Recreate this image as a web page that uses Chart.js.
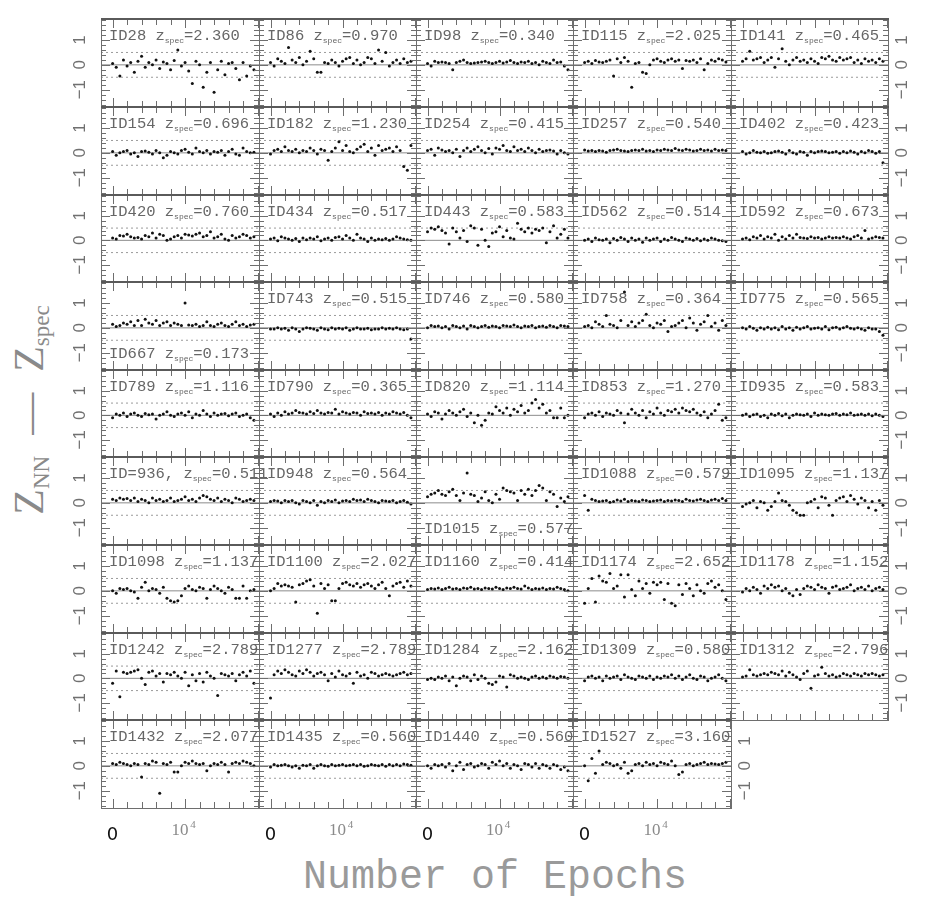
<!DOCTYPE html>
<html>
<head>
<meta charset="utf-8">
<script src="https://cdn.jsdelivr.net/npm/chart.js@4/dist/chart.umd.min.js"></script>
<style>
  body { margin: 0; background: #fff; width: 926px; height: 908px; position: relative; overflow: hidden; }
  canvas { position: absolute; }
  #xt { position: absolute; left: 0; width: 990px; top: 856px; text-align: center;
        font: 40px "Liberation Mono"; color: #9a9a9a; line-height: 44px; }
  #yt { position: absolute; left: -175px; top: 385px; width: 410px; height: 50px; line-height: 50px;
        text-align: center; transform: rotate(-90deg); font: 42px "Liberation Serif"; color: #8a8a8a; white-space: nowrap; }
  #yt sub { font-size: 23px; vertical-align: -6px; }
</style>
</head>
<body>
<div id="xt">Number of Epochs</div>
<div id="yt">Z<sub>NN</sub>&nbsp;&nbsp;—&nbsp;&nbsp;Z<sub>spec</sub></div>
<script>
// epochs at which each object was evaluated
const epochs = [0,500,1000,1500,2000,2500,3000,3500,4000,4500,5000,5500,6000,6500,7000,7500,8000,8500,9000,9500,
  10000,10500,11000,11500,12000,12500,13000,13500,14000,14500,15000,15500,16000,16500,17000,17500,18000,18500,19000,19500];

const ids = ['ID28','ID86','ID98','ID115','ID141','ID154','ID182','ID254','ID257','ID402',
  'ID420','ID434','ID443','ID562','ID592','ID667','ID743','ID746','ID758','ID775',
  'ID789','ID790','ID820','ID853','ID935','ID=936,','ID948','ID1015','ID1088','ID1095',
  'ID1098','ID1100','ID1160','ID1174','ID1178','ID1242','ID1277','ID1284','ID1309','ID1312',
  'ID1432','ID1435','ID1440','ID1527'];
const zspec = ['2.360','0.970','0.340','2.025','0.465','0.696','1.230','0.415','0.540','0.423',
  '0.760','0.517','0.583','0.514','0.673','0.173','0.515','0.580','0.364','0.565',
  '1.116','0.365','1.114','1.270','0.583','0.511','0.564','0.577','0.579','1.137',
  '1.137','2.027','0.414','2.652','1.152','2.789','2.789','2.162','0.580','2.796',
  '2.077','0.560','0.560','3.160'];

// z_NN - z_spec per object
const id28 = [.05,-.1,-.45,.2,-.05,.1,-.3,.15,.35,-.1,.1,.0,.2,-.15,.12,.05,-.2,.18,.6,-.05,.1,-.25,-.75,.15,.0,-.9,-.3,.1,-1.1,-.2,.15,-.4,.05,.1,-.15,-.6,.1,-.45,-.05,-.2];
const id86 = [.1,-.05,.25,.15,.05,.7,.2,.1,.3,.0,.15,.55,.25,-.3,-.3,.1,.05,.2,.1,-.05,.15,.25,.3,.05,.2,.0,.1,.3,.25,.05,.6,.15,.5,-.05,.1,.2,.05,.25,.1,.15];
const id98 = [.05,-.05,.15,.1,.12,.1,.05,-.2,.1,.15,.2,.1,.05,.08,.1,.12,.15,.1,.05,.1,.15,.08,.12,.18,.1,.05,.12,.1,.15,.05,.1,.0,.15,.1,.05,.2,.1,.12,-.05,-.2];
const id115 = [.1,.15,.05,.18,.12,.1,.15,.2,-.45,.25,.1,.3,.15,-.9,.05,.1,-.3,-.35,.0,.2,.25,.15,.1,.2,.25,.15,.2,-.15,.18,.15,.2,.1,.25,-.2,.05,.2,.15,.25,.2,.12];
const id141 = [.15,.25,.55,.2,.25,.3,.1,.2,.3,-.1,.25,.65,.15,.0,.2,.3,.15,.2,.1,.25,.15,.05,.3,.25,.35,.2,.15,.3,.2,.25,.3,.1,.2,.05,.25,.15,.2,.1,.25,.15];
const id154 = [.05,-.1,.0,.05,.1,-.05,.0,-.15,.05,.08,.02,-.05,.1,.0,-.2,-.1,.05,.0,-.05,.1,.15,.02,-.05,.2,.05,.0,.1,-.05,.05,.02,.1,-.1,.05,.15,-.05,-.1,.2,.05,.0,.02];
const id182 = [-.05,.1,.15,.05,.25,.1,.05,.15,.0,.1,.05,.2,.1,-.05,.15,.1,-.3,.05,.2,.45,.1,.3,.05,.0,.15,.25,.35,.05,.2,-.1,.3,.1,.15,.2,.05,.25,.1,-.55,-.7,.3];
const id254 = [.1,.15,-.1,.2,.12,.05,.1,.0,.15,-.15,.1,.2,.05,.15,.25,.1,.0,.18,-.05,.2,.15,.3,.1,.05,.25,.1,.15,.05,.2,.1,.0,.15,.05,.1,.12,.08,-.05,.1,.0,-.05];
const id257 = [.12,.08,.1,.05,.1,.08,.02,.1,.12,.15,.1,.08,.05,.1,.12,.1,.15,.08,.1,.05,.12,.1,.15,.12,.1,.18,.12,.1,.15,.12,.08,.1,.15,.1,.12,.08,.15,.1,.12,.1];
const id402 = [.05,-.05,.0,.1,.02,.0,.05,-.02,.0,.05,.08,.02,-.05,.1,.0,-.05,.05,.02,-.1,.05,.0,.05,.08,.05,.0,.02,.05,-.02,.05,.0,.08,.02,-.05,.05,.0,.1,.05,-.02,.05,-.4];
const id420 = [.1,.05,.2,.18,.25,.15,.1,.12,.05,.2,.15,.3,.1,.25,.2,.0,.05,.15,.2,.1,.25,.22,.18,.25,.3,.15,.2,.35,.1,.15,.25,.05,.0,.2,.1,.15,.25,.2,.1,.15];
const id434 = [.05,.1,-.02,.15,.1,.05,.0,.08,-.05,.1,.02,.1,.05,.15,-.02,.05,.1,.0,.12,.15,.05,.2,.1,.0,.25,.1,.05,-.05,.1,.0,.05,.02,.08,.0,.05,.15,.1,.05,.02,.0];
const id443 = [.35,.5,.45,.55,.4,.3,-.15,.5,.35,.1,.4,-.05,.6,.5,-.2,.45,.0,-.25,.3,.35,.55,.15,.4,.1,.05,.7,.45,.35,.5,.3,.45,.4,.5,-.1,.35,.6,.1,.25,.45,.1];
const id562 = [.0,.05,-.05,.1,.02,.0,.05,-.1,.08,.0,.12,.05,-.05,.1,.0,.05,-.08,.1,.0,.05,.1,-.05,.05,.0,.12,.05,.0,-.05,.1,.05,.0,.08,-.02,.05,.0,.1,.05,.0,-.02,-.05];
const id592 = [.05,.1,.02,.15,.1,.2,.05,.15,.1,.25,.0,.15,.05,.2,.1,.25,.12,.1,.08,.15,.1,.12,.05,.1,.15,.1,.12,.1,.15,.1,.05,.15,.2,.1,.4,.05,.1,.15,.12,.1];
const id667 = [.15,.05,.1,.2,.15,.25,.1,.3,.1,.35,.2,.15,.3,.1,.2,.25,.1,.2,.15,.1,1.0,.12,.1,.15,.05,.1,.25,.1,.05,.15,.2,.1,.05,.15,.25,.1,.15,.05,.12,.15];
const id743 = [-.05,-.05,.0,-.05,-.02,-.1,.0,-.05,-.15,-.05,.0,-.02,-.05,-.1,.0,-.05,-.08,.0,-.05,-.02,-.05,.0,-.1,-.05,.0,-.05,-.05,-.02,-.08,-.05,-.05,.0,-.05,-.02,-.05,.0,-.05,-.08,-.05,-.45];
const id746 = [.0,.1,.05,.08,.0,.05,-.05,.1,.05,.0,.08,-.05,.1,.05,.0,.05,.1,.02,.08,.05,.0,.1,.08,.05,.12,.05,.0,.08,.05,.1,.0,.05,.08,.02,.1,.05,.0,.1,.08,.05];
const id758 = [.05,.1,.0,.25,.15,.05,.5,.15,.1,.0,.3,1.45,.1,.25,.05,.2,.3,.55,.1,.0,.2,.15,.3,-.15,.05,.1,.2,.3,.0,.4,.2,-.1,.15,.25,.5,.05,.2,-.1,.3,.1];
const id775 = [.0,-.05,.05,-.02,-.1,.0,-.05,.02,-.05,.0,-.08,.05,-.05,.0,-.1,.02,-.05,.0,.05,-.05,-.02,.0,-.05,.05,-.08,.0,.02,-.05,.0,.05,-.02,-.05,.0,-.05,-.1,.0,-.05,-.05,-.15,-.3];
const id789 = [-.1,.05,.0,.1,-.05,.05,.1,.0,-.05,.08,.02,.05,-.15,.0,.05,.15,.0,-.05,.05,.1,.0,.15,-.1,.05,.0,.2,.05,-.05,.1,.0,.05,.08,-.02,.05,.1,-.05,.0,.05,-.1,-.2];
const id790 = [.05,-.05,.1,.0,.15,.05,.1,.2,.12,.1,.05,.15,.08,.2,.1,.05,.12,.1,.25,.05,.15,.1,.05,.12,.1,.0,.15,.08,.1,.05,.12,.0,.1,.05,.15,.1,.05,.12,.0,-.1];
const id820 = [.05,-.05,.15,.1,-.15,.05,.2,.1,.0,.15,.25,-.05,.1,-.3,.0,-.4,-.2,.1,.05,.35,.2,.1,.3,.0,.25,.15,.4,.1,.2,.5,.65,.3,.45,.1,.2,-.1,-.1,.3,-.1,.0];
const id853 = [-.1,.05,.1,.0,.15,-.05,.1,.05,.0,.2,.1,-.3,.05,.25,.1,.0,.2,-.1,.15,.05,.3,.1,.0,.2,.15,.25,.1,.3,.2,.15,.25,.1,.0,.15,-.1,.05,.2,.45,-.2,-.1];
const id935 = [.0,.05,-.05,.02,.05,-.05,.0,-.1,.05,.0,.08,-.02,.05,-.1,.0,.05,.02,.0,.05,-.05,.1,.0,.05,.02,.0,.05,.08,.0,.05,.02,.1,.0,.02,.05,.0,.05,-.02,.05,.0,-.05];
const id936 = [.15,.1,.2,.15,.18,.1,.2,.05,.15,.1,.0,.2,.1,.15,.05,.1,.2,.05,.1,.15,.25,.1,.15,.05,.2,.3,.25,.15,.1,.2,.05,.15,.1,.0,.2,.15,.05,.1,.15,.1];
const id948 = [.05,.1,.08,.0,.1,.05,.1,.0,-.05,.1,.05,.0,.1,-.1,.05,.0,.1,.05,.12,.0,.08,.1,.05,.15,.1,.12,.05,.15,.1,.05,.0,.1,.08,.05,.1,.0,.05,.1,.02,-.05];
const id1015 = [.25,.35,.4,.5,.35,.3,.45,.55,.3,.1,.4,1.2,.35,.3,.05,.2,.45,.1,.0,.35,.15,.6,.5,.45,.4,.1,.5,.35,.55,.3,.5,.7,.6,.1,.45,.35,-.15,.2,.05,.25];
const id1088 = [.3,-.3,.15,.1,.05,.08,.1,.02,.05,.12,.08,.15,.05,.1,.08,.05,.12,.1,.05,.08,.1,.12,.05,.1,.08,.12,.1,.05,.15,.1,.08,.12,.15,.1,.05,.12,.15,.1,.18,.1];
const id1095 = [-.15,-.05,.0,.1,-.2,.05,.0,-.3,-.15,.05,.4,.1,.05,-.1,-.3,-.4,-.5,-.5,.0,.05,.15,-.2,.25,.2,-.1,-.5,.1,.2,.25,.05,.3,.15,-.05,.2,.1,-.2,.05,-.3,.1,-.1];
const id1098 = [.0,-.1,.1,.05,.1,.0,-.05,-.3,.15,.35,.0,.1,.05,-.1,.15,-.3,-.4,-.45,-.4,-.2,.1,.2,.05,.0,.15,.1,-.3,.05,.2,.1,.0,-.1,.15,.05,-.3,-.3,.2,-.3,.0,.05];
const id1100 = [.0,.1,.3,.2,.25,.2,.15,-.45,.25,.3,.4,.45,.2,-.9,.3,.1,.25,-.4,-.4,.1,.3,.35,.25,.2,.3,.15,.25,.3,.2,.1,.25,.35,.1,-.2,.2,.3,.35,.15,.4,.2];
const id1160 = [.05,.1,.08,.12,.05,.1,.15,.08,.1,.05,.12,.1,.15,.08,.1,.05,.12,.1,.08,.15,.1,.05,.12,.1,.15,.1,.08,.2,.12,.05,.1,.08,.12,.05,.1,.08,.15,.1,.05,.0];
const id1174 = [-.5,.1,.5,-.45,.6,.4,.35,.7,.1,.2,.65,-.25,.65,.05,-.2,.4,.1,.3,-.1,.35,.25,.35,-.35,.3,-.5,-.6,.25,-.15,.3,.1,-.2,.25,.0,-.1,.3,.4,.15,.25,.0,-.35];
const id1178 = [-.05,.1,.0,.15,.05,-.1,.2,.1,.25,.15,.2,.0,.1,-.1,-.2,.05,-.15,.1,.2,.15,.05,.25,.15,.1,-.1,.15,.2,.05,.1,.15,.25,.0,.1,.15,.05,.2,.0,.1,.15,.05];
const id1242 = [-.2,.3,-.75,.25,.2,.25,.3,.35,.0,-.25,.25,.3,.1,.2,-.15,.2,.15,.25,.1,.0,.25,-.3,.15,-.1,.2,-.15,.25,.1,.0,-.7,.2,.15,.1,.2,-.1,.15,.25,.1,.3,-.2];
const id1277 = [-.8,.15,.3,.2,.35,.25,.15,.1,.3,.2,.35,.25,.1,.2,.25,.15,-.1,.2,.05,.3,.15,.1,.2,-.2,.25,.1,.15,.0,.25,.2,.1,.15,.2,.15,.1,.15,.2,.25,.15,.2];
const id1284 = [-.05,.0,-.05,.05,.0,.1,-.1,.05,-.3,.0,.1,.05,-.1,.15,-.05,.1,.0,-.2,-.25,-.15,.1,.05,-.35,.15,.1,.0,.05,.0,-.05,.05,.1,.0,.05,.0,.1,.05,.0,.08,.05,.0];
const id1309 = [-.1,.05,.1,.0,.05,-.1,.1,.0,.05,.1,-.05,.15,.05,.0,-.05,.1,.05,.0,.1,-.05,.05,.0,.1,.05,.15,.0,.1,-.05,.05,.15,.0,-.05,.1,.05,-.1,.0,.05,.15,.0,-.1];
const id1312 = [.05,.1,.35,.15,.1,.15,.2,.15,.25,.2,.15,.3,.1,.25,.15,.05,-.05,.2,.3,-.4,.1,.15,.45,.2,.1,.15,.05,.1,.2,.15,.1,.2,.15,.1,.2,.15,.2,.15,.1,.15];
const id1432 = [.1,.05,.15,.1,.05,.0,.1,.05,-.45,.1,.05,.2,.15,-1.1,.1,.05,.15,-.25,-.25,.0,.15,.1,.2,.1,.05,.1,-.2,.0,.1,.05,.15,.05,-.25,.1,.15,.1,.2,.15,.1,.0];
const id1435 = [-.05,.05,.0,.02,.05,.0,-.05,.0,-.1,.02,.0,.05,-.1,.0,.05,.0,-.02,.05,.0,.02,.05,.0,.02,.05,.0,.05,-.02,.0,.05,.02,.0,.05,-.02,.05,.0,.05,.0,.08,.05,.02];
const id1440 = [.0,-.1,.05,.0,.05,-.05,.1,-.2,.0,.15,-.15,.05,.1,-.05,.0,.1,.05,-.1,.15,.05,.2,.0,.1,-.1,.05,.0,-.15,.1,.05,-.05,.1,-.1,.05,.0,-.1,.05,.0,-.15,-.05,-.2];
const id1527 = [.0,-.6,.3,-.3,.6,.05,.15,.1,.0,.05,-.1,.15,-.3,-.2,.05,.1,.0,.15,.05,.1,.0,.15,.1,.05,.2,.0,-.35,-.25,.05,.1,.0,.05,.1,.15,.05,.1,.08,.05,.1,.15];

const series = [id28,id86,id98,id115,id141,id154,id182,id254,id257,id402,
  id420,id434,id443,id562,id592,id667,id743,id746,id758,id775,
  id789,id790,id820,id853,id935,id936,id948,id1015,id1088,id1095,
  id1098,id1100,id1160,id1174,id1178,id1242,id1277,id1284,id1309,id1312,
  id1432,id1435,id1440,id1527];

const epochTicks = [0,2000,4000,6000,8000,10000,12000,14000,16000,18000,20000];
const zTicks = [-1.6,-1.4,-1.2,-1,-0.8,-0.6,-0.4,-0.2,0,0.2,0.4,0.6,0.8,1,1.2,1.4,1.6,1.8];
const zLabels = [-1, 0, 1];
const refLevels = [0, 0.5, -0.5];
const xMin = -1600, xMax = 20200, yMin = -1.7, yMax = 1.85;

// page layout of the 9x5 grid
const M = 40;
const colX = [101, 259, 416, 573, 731, 888];
const rowY = [19, 107, 195, 282, 370, 457, 545, 633, 720, 808];
const bottomLabelled = ['ID667', 'ID1015'];

const deco = {
  id: 'deco',
  afterDraw(chart, args, o) {
    const {ctx, chartArea: a, scales: {x, y}} = chart;
    const L = a.left, R = a.right, T = a.top, B = a.bottom;
    ctx.save();
    ctx.strokeStyle = '#6e6e6e';
    ctx.lineWidth = 1;
    ctx.beginPath();
    epochTicks.forEach(t => {
      const px = Math.round(x.getPixelForValue(t)) + 0.5;
      const len = t % 10000 === 0 ? 9 : 6;
      ctx.moveTo(px, B); ctx.lineTo(px, B - len);
      ctx.moveTo(px, T); ctx.lineTo(px, T + len);
    });
    zTicks.forEach(t => {
      const py = Math.round(y.getPixelForValue(t)) + 0.5;
      const len = zLabels.includes(t) ? 9 : 5;
      ctx.moveTo(L, py); ctx.lineTo(L + len, py);
      ctx.moveTo(R, py); ctx.lineTo(R - len, py);
    });
    ctx.moveTo(L + 0.5, T); ctx.lineTo(L + 0.5, B + 1);
    ctx.moveTo(R + 0.5, T); ctx.lineTo(R + 0.5, B + 1);
    ctx.moveTo(L, B + 0.5); ctx.lineTo(R + 1, B + 0.5);
    ctx.stroke();
    ctx.fillStyle = '#5a5a5a';
    ctx.fillRect(L, T - 1, R - L + 1, 2);

    // object label
    ctx.fillStyle = '#666';
    ctx.textBaseline = 'alphabetic';
    ctx.textAlign = 'left';
    const bx = L + 8, by = o.bottom ? B - 12 : T + 21;
    const t1 = o.id + ' z';
    ctx.font = '15.5px "Liberation Mono"';
    ctx.fillText(t1, bx, by);
    let w = ctx.measureText(t1).width;
    ctx.font = '8px "Liberation Mono"';
    ctx.fillText('spec', bx + w, by + 3);
    w += ctx.measureText('spec').width;
    ctx.font = '15.5px "Liberation Mono"';
    ctx.fillText('=' + o.z, bx + w, by);

    // rotated y tick labels
    ctx.font = '17px "Liberation Sans"';
    ctx.fillStyle = '#707070';
    ctx.textAlign = 'center';
    ctx.textBaseline = 'middle';
    const cxs = [];
    if (o.yl) cxs.push(L - 21);
    if (o.yr) cxs.push(R + 14);
    cxs.forEach(cx => {
      zLabels.forEach(v => {
        ctx.save();
        ctx.translate(cx, y.getPixelForValue(v));
        ctx.rotate(-Math.PI / 2);
        ctx.fillText(v < 0 ? '\u2212' + (-v) : String(v), 0, 0);
        ctx.restore();
      });
    });

    // x tick labels
    if (o.xl) {
      ctx.textBaseline = 'alphabetic';
      ctx.font = '18px "DejaVu Sans"';
      ctx.fillStyle = '#111';
      ctx.fillText('0', x.getPixelForValue(0), B + 32);
      const px = x.getPixelForValue(10000);
      ctx.font = '17px "Liberation Serif"';
      ctx.fillStyle = '#8a8a8a';
      ctx.fillText('10', px - 5, B + 27);
      ctx.font = '11px "Liberation Serif"';
      ctx.fillText('4', px + 8, B + 20);
    }
    ctx.restore();
  }
};

series.forEach((vals, k) => {
  const r = Math.floor(k / 5), c = k % 5;
  const w = colX[c + 1] - colX[c], h = rowY[r + 1] - rowY[r];
  const cv = document.createElement('canvas');
  cv.width = w + 2 * M; cv.height = h + 2 * M;
  cv.style.left = (colX[c] - M) + 'px';
  cv.style.top = (rowY[r] - M) + 'px';
  document.body.appendChild(cv);

  const lines = refLevels.map(lv => ({
    type: 'line',
    data: [{x: xMin, y: lv}, {x: xMax, y: lv}],
    borderColor: lv === 0 ? '#8c8c8c' : '#9a9a9a',
    borderWidth: 1,
    borderDash: lv === 0 ? [] : [2, 3],
    pointRadius: 0,
    order: 1
  }));

  new Chart(cv, {
    type: 'scatter',
    data: {
      datasets: [{
        data: vals.map((v, i) => ({x: epochs[i], y: v})),
        pointRadius: 1.5,
        pointBackgroundColor: '#111',
        pointBorderWidth: 0,
        order: 0
      }, ...lines]
    },
    options: {
      responsive: false,
      animation: false,
      events: [],
      devicePixelRatio: 1,
      layout: {padding: M},
      scales: {
        x: {type: 'linear', display: false, min: xMin, max: xMax},
        y: {type: 'linear', display: false, min: yMin, max: yMax}
      },
      plugins: {
        legend: {display: false},
        tooltip: {enabled: false},
        deco: {
          id: ids[k], z: zspec[k],
          bottom: bottomLabelled.includes(ids[k]),
          yl: c === 0,
          yr: (c === 4) || (r === 8 && c === 3),
          xl: r === 8
        }
      }
    },
    plugins: [deco]
  });
});
</script>
</body>
</html>
